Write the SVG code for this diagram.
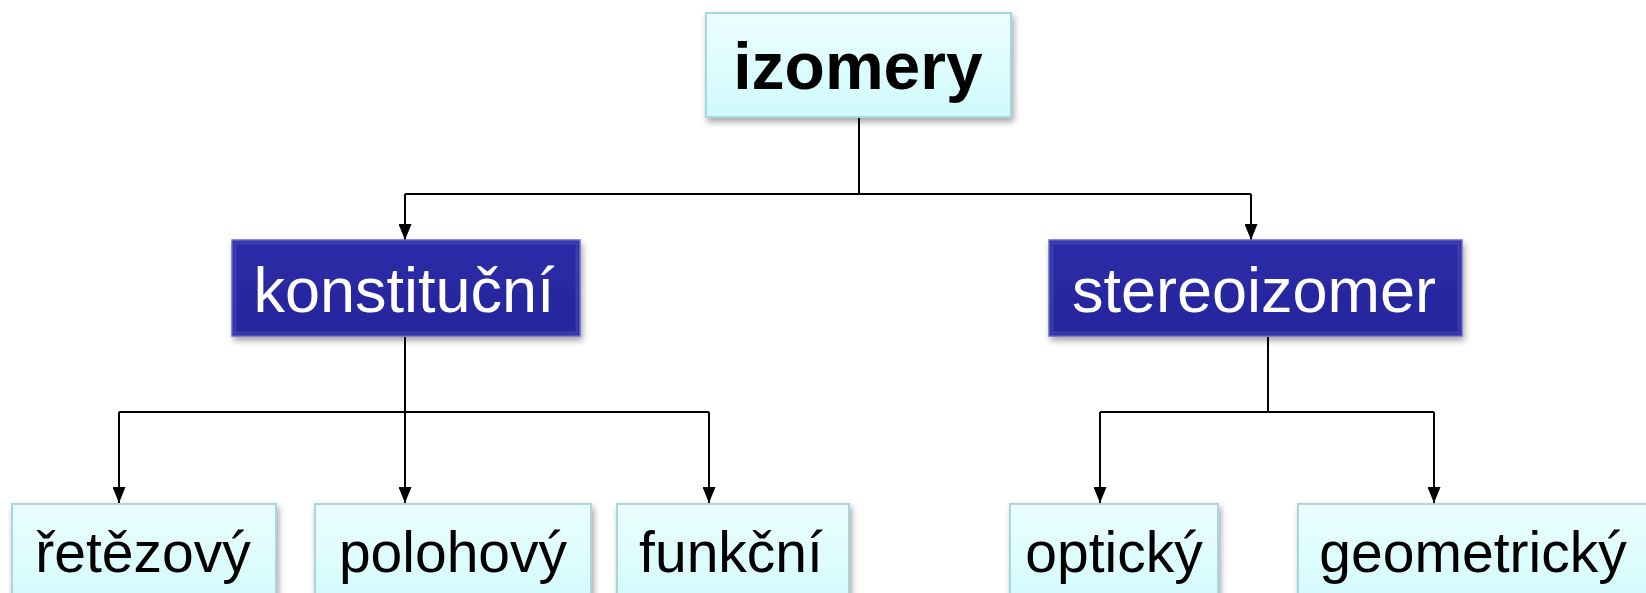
<svg xmlns="http://www.w3.org/2000/svg" width="1646" height="593" viewBox="0 0 1646 593">
<style>
.light{fill:url(#gLight);stroke:#A9D6DA;stroke-width:2;filter:url(#sh)}
.dark{fill:url(#gDark);stroke:#6B6BC8;stroke-width:1.5;filter:url(#sh)}
.bevel{fill:none;stroke:#4A4AB8;stroke-width:3;opacity:0.6}
.t{font-family:"Liberation Sans",Arial,sans-serif;text-anchor:middle}
.tl{font-size:57px;fill:#000}
.td{font-size:63px;fill:#fff}
.con{fill:none;stroke:#000;stroke-width:2}
.arr{fill:none;stroke:#000;stroke-width:2;marker-end:url(#ah)}
</style>
<defs>
<linearGradient id="gLight" x1="0" y1="0" x2="0" y2="1">
<stop offset="0" stop-color="#ECFEFE"/>
<stop offset="1" stop-color="#CFFAFC"/>
</linearGradient>
<linearGradient id="gDark" x1="0" y1="0" x2="0" y2="1">
<stop offset="0" stop-color="#2C2CA8"/>
<stop offset="1" stop-color="#25259C"/>
</linearGradient>
<filter id="sh" x="-10%" y="-10%" width="120%" height="130%">
<feDropShadow dx="2" dy="4" stdDeviation="3" flood-color="#000" flood-opacity="0.35"/>
</filter>
<marker id="ah" viewBox="0 0 16 13" refX="16" refY="6.5" markerWidth="16" markerHeight="13" markerUnits="userSpaceOnUse" orient="auto">
<path d="M0,0 L16,6.5 L0,13 Z" fill="#000"/>
</marker>
</defs>
<g id="connectors">
<path class="con" d="M859,118 V194 M405,194 H1251"/>
<path class="arr" d="M405,194 V240"/>
<path class="arr" d="M1251,194 V240"/>
<path class="con" d="M405,337 V412 M119,412 H709"/>
<path class="con" d="M1268,337 V412 M1100,412 H1434"/>
<path class="arr" d="M119,412 V503"/>
<path class="arr" d="M405,412 V503"/>
<path class="arr" d="M709,412 V503"/>
<path class="arr" d="M1100,412 V503"/>
<path class="arr" d="M1434,412 V503"/>
</g>
<g id="izomery">
<rect class="light" x="706" y="13" width="305" height="104"/>
<text class="t" x="858" y="89" font-size="66" font-weight="bold">izomery</text>
</g>
<g id="konstitucni">
<rect class="dark" x="232" y="240" width="348" height="96"/>
<rect class="bevel" x="235" y="243" width="342" height="90"/>
<text class="t td" x="404" y="312">konstituční</text>
</g>
<g id="stereoizomer">
<rect class="dark" x="1049" y="240" width="413" height="96"/>
<rect class="bevel" x="1052" y="243" width="407" height="90"/>
<text class="t td" x="1254" y="312">stereoizomer</text>
</g>
<g id="retezovy">
<rect class="light" x="12" y="504" width="264" height="110"/>
<text class="t tl" x="143" y="572">řetězový</text>
</g>
<g id="polohovy">
<rect class="light" x="315" y="504" width="276" height="110"/>
<text class="t tl" x="453" y="572">polohový</text>
</g>
<g id="funkcni">
<rect class="light" x="617" y="504" width="232" height="110"/>
<text class="t tl" x="731" y="572">funkční</text>
</g>
<g id="opticky">
<rect class="light" x="1010" y="504" width="208" height="110"/>
<text class="t tl" x="1114" y="572">optický</text>
</g>
<g id="geometricky">
<rect class="light" x="1298" y="504" width="360" height="110"/>
<text class="t tl" x="1473" y="572">geometrický</text>
</g>
</svg>
